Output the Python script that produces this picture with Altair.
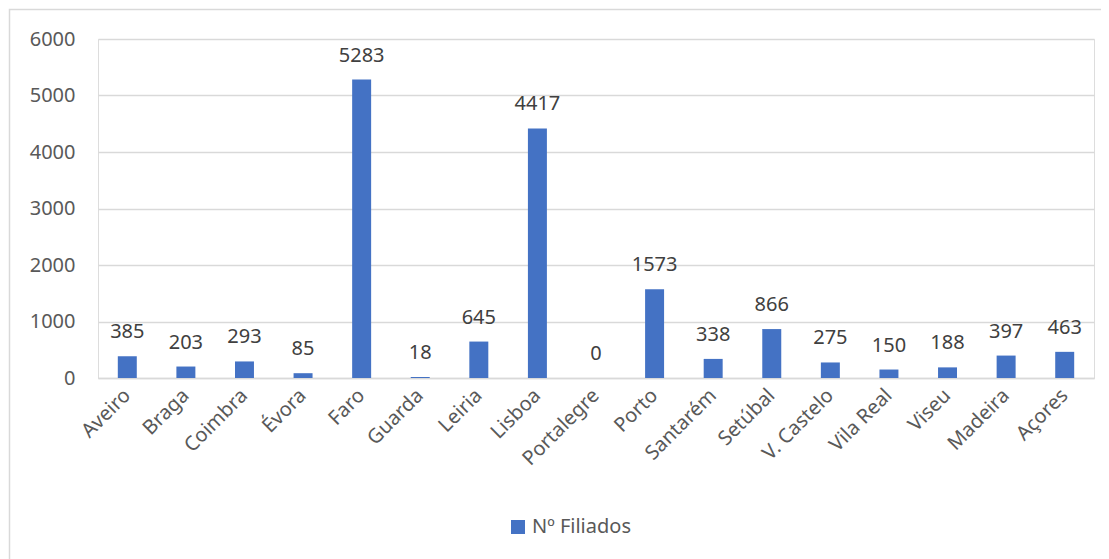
import altair as alt
import pandas as pd

categories = ["Aveiro", "Braga", "Coimbra", "Évora", "Faro", "Guarda", "Leiria", "Lisboa",
              "Portalegre", "Porto", "Santarém", "Setúbal", "V. Castelo", "Vila Real",
              "Viseu", "Madeira", "Açores"]
values = [385, 203, 293, 85, 5283, 18, 645, 4417, 0, 1573, 338, 866, 275, 150, 188, 397, 463]
series_name = "Nº Filiados"
y_ticks = [0, 1000, 2000, 3000, 4000, 5000, 6000]

df = pd.DataFrame({"cat": categories, "val": values, "series": [series_name] * len(values)})

FONT = "Noto Sans"
BLUE = "#4472C4"

x_enc = alt.X("cat:N", sort=categories, title=None,
              scale=alt.Scale(paddingInner=0.676, paddingOuter=0.338),
              axis=alt.Axis(labelAngle=-45, labelAlign="right", labelBaseline="middle",
                            labelPadding=14, ticks=False, domainColor="#d9d9d9",
                            domainWidth=1.5, labelFontSize=20, labelColor="#595959",
                            labelFont=FONT, grid=False))
y_enc = alt.Y("val:Q", title=None,
              scale=alt.Scale(domain=[0, 6000], nice=False),
              axis=alt.Axis(values=y_ticks, format="d", domain=False, ticks=False,
                            labelPadding=23, gridColor="#d9d9d9", gridWidth=1.5,
                            labelFontSize=20, labelColor="#595959", labelFont=FONT))

base = alt.Chart(df)

bars = base.mark_bar(color=BLUE).encode(
    x=x_enc, y=y_enc,
    color=alt.Color("series:N", scale=alt.Scale(range=[BLUE]), title=None,
                    legend=alt.Legend(orient="none", legendX=410, legendY=478,
                                      symbolType="square", symbolSize=196,
                                      symbolStrokeWidth=0, labelFontSize=20,
                                      labelFont=FONT, labelColor="#595959",
                                      labelOffset=4, padding=0))
)

labels = base.mark_text(baseline="alphabetic", dy=-18, fontSize=20, font=FONT,
                        color="#404040").encode(
    x=alt.X("cat:N", sort=categories), y="val:Q", text="val:Q"
)

border = alt.Chart(pd.DataFrame({"d": [0]})).mark_rect(
    fill=None, stroke="#d9d9d9", strokeWidth=1.5, clip=False
).encode(x=alt.value(-88.5), x2=alt.value(1200), y=alt.value(-29.5), y2=alt.value(700))

chart = alt.layer(bars, labels, border).properties(
    width=996, height=339,
    autosize=alt.AutoSizeParams(type="none"),
    padding={"left": 90, "top": 31, "right": 7, "bottom": 181},
).configure_view(stroke=None).configure(background="white")

chart.save("out.html", embed_options={"renderer": "svg", "actions": False})
